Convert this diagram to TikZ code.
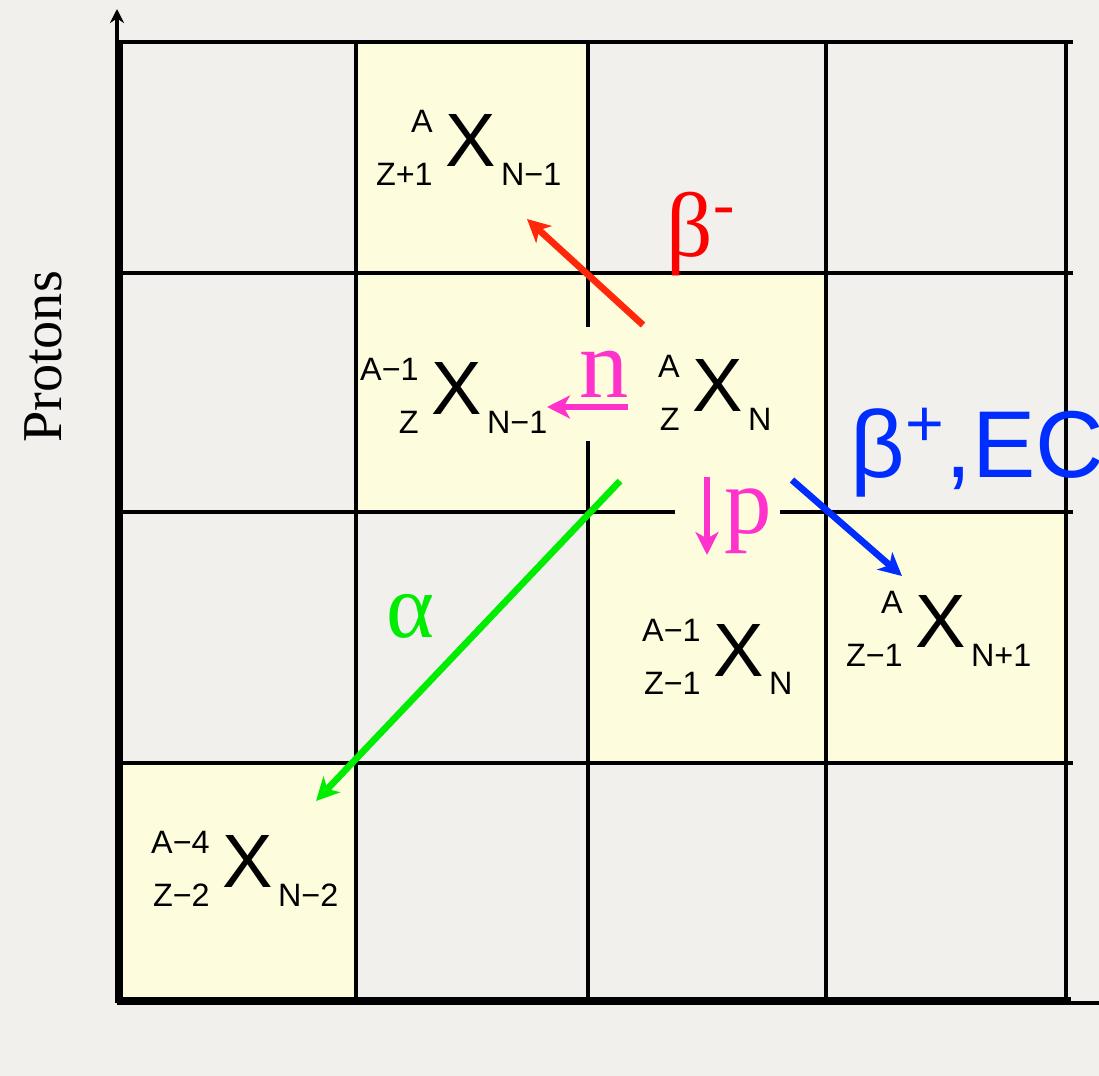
\documentclass[tikz,border=0pt]{standalone}
\usepackage{fontspec}
\setmainfont{Liberation Serif}
\newfontfamily\helv{Liberation Sans}
\usetikzlibrary{arrows.meta}

\definecolor{paper}{RGB}{242,240,236}
\definecolor{cellyel}{RGB}{253,252,220}
\definecolor{betared}{RGB}{255,0,0}
\definecolor{arrred}{RGB}{255,40,10}
\definecolor{nmag}{RGB}{255,51,204}
\definecolor{agreen}{RGB}{0,236,0}
\definecolor{ecblue}{RGB}{0,45,255}

\newcommand\scr{\helv\fontsize{9.2}{11}\selectfont}
\newcommand\iso[3]{%
  \makebox[0pt][r]{\raisebox{9.9pt}{\scr #1}}%
  \makebox[0pt][r]{\raisebox{-5.4pt}{\scr #2}}%
  \hspace{3.7pt}{\fontsize{21.5}{24}\selectfont X}%
  \hspace{1.4pt}\raisebox{-5.4pt}{\scr #3}}

\begin{document}
\begin{tikzpicture}[x=0.01cm,y=-0.01cm,
  grid/.style={line width=1.1pt,line cap=rect},
  decay/.style={line width=1.9pt,-{Stealth[length=6.5pt,width=6.5pt,inset=1.8pt]}},
  nuclide/.style={anchor=base west,inner sep=0pt,font=\helv},
  lbl/.style={anchor=base west,inner sep=0pt}
]
\useasboundingbox (0,0) rectangle (1099,1076);
\fill[paper] (0,0) rectangle (1099,1076);

% Filled cells
\fill[cellyel] (356,42)  rectangle (588,273);
\fill[cellyel] (356,273) rectangle (826,512);
\fill[cellyel] (588,512) rectangle (1066,763);
\fill[cellyel] (121,763) rectangle (356,1000);

% Grid
\draw[grid] (121,42) -- (121,1000);
\draw[grid] (118,42) -- (1071,42);
\draw[grid] (118,273) -- (1071,273);
\draw[grid] (118,512) -- (673,512) (782,512) -- (1071,512);
\draw[grid] (118,763) -- (1071,763);
\draw[grid] (356,42) -- (356,1000);
\draw[grid] (588,42) -- (588,325) (588,443) -- (588,1000);
\draw[grid] (826,42) -- (826,995);
\draw[grid] (1066,42) -- (1066,995);
\draw[line width=1.6pt] (118,1000) -- (1071,1000);

% Axes
\draw[line width=0.9pt,-{Stealth[length=4pt,width=4pt]}] (117,1003) -- (117,9);
\draw[line width=0.9pt] (117,1003) -- (1099,1003);
\node[rotate=90,font=\fontsize{16}{18}\selectfont] (ylab) at (43,357) {Protons};

% Nuclides
\node[nuclide] (bminus) at (432,167) {\iso{A}{Z+1}{N−1}};
\node[nuclide] (nloss)  at (418,415) {\iso{A−1}{Z}{N−1}};
\node[nuclide] (parent) at (679,412) {\iso{A}{Z}{N}};
\node[nuclide] (ploss)  at (700,676) {\iso{A−1}{Z−1}{N}};
\node[nuclide] (bplus)  at (902,648) {\iso{A}{Z−1}{N+1}};
\node[nuclide] (aloss)  at (209,888) {\iso{A−4}{Z−2}{N−2}};

% Decay labels
\node[lbl,text=betared,font=\fontsize{26}{28}\selectfont] (lbm) at (666,257) {β\textsuperscript{-}};
\node[lbl,text=ecblue,font=\helv\fontsize{27}{29}\selectfont] (lbp) at (850,478) {β\textsuperscript{+},EC};
\node[lbl,text=agreen,font=\fontsize{26}{28}\selectfont] (la) at (386,638) {α};
\node[lbl,text=nmag,font=\fontsize{28}{30}\selectfont] (ln) at (579,398) {n};
\node[lbl,text=nmag,font=\fontsize{27}{29}\selectfont] (lp) at (724,534) {p};

% Decay arrows
\coordinate (bmS) at (643,325);  \coordinate (bmT) at (527,219);
\coordinate (nS)  at (628,407);  \coordinate (nT)  at (547,407);
\coordinate (pS)  at (707,477);  \coordinate (pT)  at (707,555);
\coordinate (aS)  at (620,481);  \coordinate (aT)  at (316,801);
\coordinate (bpS) at (792,480);  \coordinate (bpT) at (902,576);
\draw[decay,arrred] (bmS) -- (bmT);
\draw[decay,nmag]   (nS) -- (nT);
\draw[decay,nmag]   (pS) -- (pT);
\draw[decay,agreen] (aS) -- (aT);
\draw[decay,ecblue] (bpS) -- (bpT);
\end{tikzpicture}
\end{document}
